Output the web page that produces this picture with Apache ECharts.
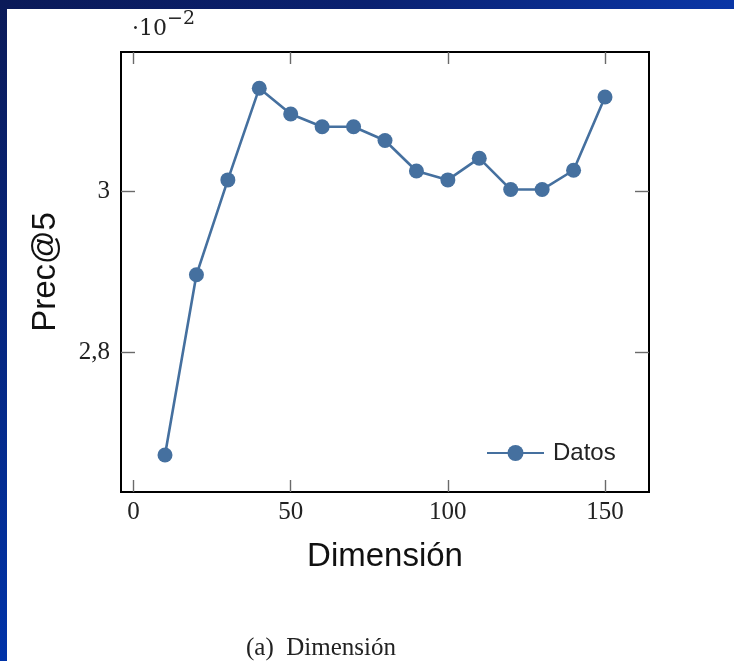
<!DOCTYPE html>
<html>
<head>
<meta charset="utf-8">
<script src="https://cdn.jsdelivr.net/npm/echarts@6/dist/echarts.min.js"></script>
<style>
  html, body { margin: 0; padding: 0; }
  #chart { width: 734px; height: 661px; }
</style>
</head>
<body>
<div id="chart"></div>
<script>
// Prec@5 vs dimension (values in units of 1e-2)
const dims = [10, 20, 30, 40, 50, 60, 70, 80, 90, 100, 110, 120, 130, 140, 150];
const prec = [2.672, 2.896, 3.014, 3.128, 3.096, 3.080, 3.080, 3.063, 3.025, 3.014, 3.041, 3.002, 3.002, 3.026, 3.117];
const xTicks = [0, 50, 100, 150];
const yTicks = [2.8, 3.0];
const yTickLabels = ['2,8', '3'];

(function(){
  const el = document.getElementById('chart');
  const chart = echarts.init(el);
  const blue = '#45709f';
  const serif = '"Liberation Serif", "DejaVu Serif", serif';
  const sans = '"Liberation Sans", Arial, sans-serif';
  const tick = (len) => ({ show: true, inside: true, length: len, lineStyle: { color: '#6a6a6a', width: 1.4 } });
  const noLine = { show: false, onZero: false };

  chart.setOption({
    backgroundColor: '#fff',
    animation: false,
    grid: { left: 121, right: 85, top: 52, bottom: 169, show: true, borderColor: '#000', borderWidth: 2 },
    legend: {
      left: 481, top: 436,
      itemWidth: 57, itemHeight: 20, itemGap: 8,
      textStyle: { fontFamily: sans, fontSize: 24, color: '#222', padding: [0, 0, 0, 4] },
      data: ['Datos']
    },
    xAxis: [
      {
        type: 'value', min: -4, max: 164,
        axisLine: noLine,
        splitLine: { show: false },
        axisTick: Object.assign({ customValues: xTicks }, tick(12)),
        axisLabel: { customValues: xTicks, fontFamily: serif, fontSize: 25, color: '#222', margin: 8 },
        name: 'Dimensión', nameLocation: 'middle', nameGap: 48,
        nameTextStyle: { fontFamily: sans, fontSize: 33, color: '#111' }
      },
      {
        type: 'value', position: 'top', min: -4, max: 164,
        axisLine: noLine,
        splitLine: { show: false },
        axisTick: Object.assign({ customValues: xTicks }, tick(12)),
        axisLabel: { show: false }
      }
    ],
    yAxis: [
      {
        type: 'value', position: 'left', min: 2.626, max: 3.173,
        axisLine: noLine,
        splitLine: { show: false },
        axisTick: Object.assign({ customValues: yTicks }, tick(14)),
        axisLabel: {
          customValues: yTicks, fontFamily: serif, fontSize: 25, color: '#222', margin: 11,
          formatter: v => yTickLabels[yTicks.findIndex(t => Math.abs(t - v) < 1e-6)]
        },
        name: 'Prec@5', nameLocation: 'middle', nameGap: 59, nameRotate: 90,
        nameTextStyle: { fontFamily: sans, fontSize: 33, color: '#111' }
      },
      {
        type: 'value', position: 'right', min: 2.626, max: 3.173,
        axisLine: noLine,
        splitLine: { show: false },
        axisTick: Object.assign({ customValues: yTicks }, tick(14)),
        axisLabel: { show: false }
      }
    ],
    series: [{
      name: 'Datos',
      type: 'line',
      data: dims.map((d, i) => [d, prec[i]]),
      symbol: 'circle',
      symbolSize: 15,
      lineStyle: { color: blue, width: 2.6 },
      itemStyle: { color: blue }
    }],
    graphic: [
      {
        type: 'rect', left: 0, top: 0, z: 100,
        shape: { width: 734, height: 9 },
        style: { fill: new echarts.graphic.LinearGradient(0, 0, 1, 0, [
          { offset: 0, color: '#0b1a58' }, { offset: 0.5, color: '#0a2170' }, { offset: 1, color: '#0a36a6' }
        ]) }
      },
      {
        type: 'rect', left: 0, top: 0, z: 100,
        shape: { width: 7, height: 661 },
        style: { fill: new echarts.graphic.LinearGradient(0, 0, 0, 1, [
          { offset: 0, color: '#0b1a58' }, { offset: 1, color: '#0033a8' }
        ]) }
      },
      {
        type: 'text', left: 132, top: 10,
        style: {
          text: '{a|·10}{b|−2}',
          rich: {
            a: { fontFamily: '"DejaVu Serif", serif', fontSize: 22, fill: '#222', verticalAlign: 'bottom', lineHeight: 30 },
            b: { fontFamily: '"DejaVu Serif", serif', fontSize: 19, fill: '#222', verticalAlign: 'top', lineHeight: 19 }
          }
        }
      },
      {
        type: 'text', left: 246, top: 636,
        style: { text: '(a)  Dimensión', fontFamily: serif, fontSize: 25, fill: '#222' }
      }
    ]
  });
})();
</script>
</body>
</html>
